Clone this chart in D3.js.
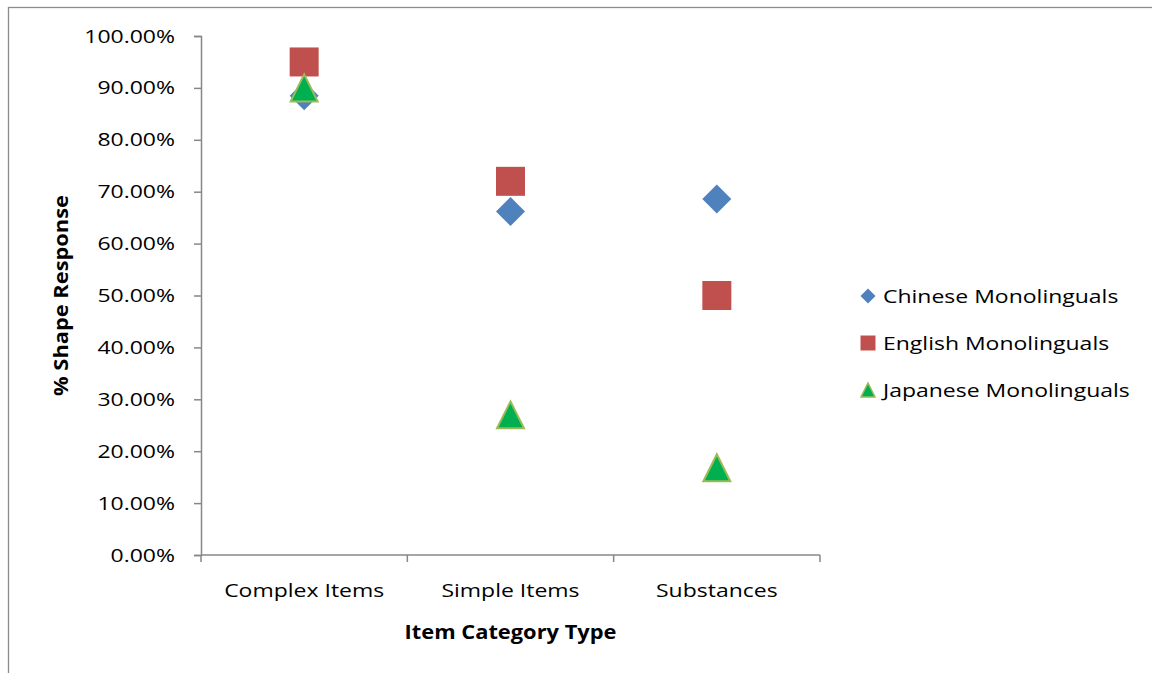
<!DOCTYPE html>
<html>
<head>
<meta charset="utf-8">
<script src="https://cdn.jsdelivr.net/npm/d3@7"></script>
<style>
  html, body { margin: 0; padding: 0; background: #fff; }
  svg { display: block; font-family: "Open Sans", "Noto Sans", sans-serif; }
</style>
</head>
<body>
<svg id="chart" width="1152" height="673"></svg>
<script>
// Item categories along the x axis
const categories = ["Complex Items", "Simple Items", "Substances"];

// Proportion of shape responses per language group
const seriesNames = ["Chinese Monolinguals", "English Monolinguals", "Japanese Monolinguals"];
const chinese  = [0.885, 0.662, 0.686];
const english  = [0.950, 0.720, 0.500];
const japanese = [0.900, 0.270, 0.168];

const yTicks = [0, 0.1, 0.2, 0.3, 0.4, 0.5, 0.6, 0.7, 0.8, 0.9, 1.0];

const series = [
  { name: seriesNames[0], values: chinese,  shape: "diamond",  fill: "#4F81BD", stroke: "none" },
  { name: seriesNames[1], values: english,  shape: "square",   fill: "#C0504D", stroke: "none" },
  { name: seriesNames[2], values: japanese, shape: "triangle", fill: "#00B050", stroke: "#9BBB59" }
];

const svg = d3.select("#chart");
const axisColor = "#878787";
const sx = 1.21;      // horizontal stretch of the label type
const sxBold = 1.15;

// Outer chart frame
svg.append("rect")
  .attr("x", 8.5).attr("y", 7.5)
  .attr("width", 1160).attr("height", 680)
  .attr("fill", "none").attr("stroke", "#8c8c8c").attr("stroke-width", 1.3);

const plot = { left: 201, right: 820, top: 36, bottom: 555 };

const xBand = d3.scaleBand().domain(categories).range([plot.left, plot.right]).padding(0);
const xCenter = c => xBand(c) + xBand.bandwidth() / 2;
const y = d3.scaleLinear().domain([0, 1]).range([plot.bottom, plot.top]);
const fmt = d3.format(".2%");

// Y axis
const yAxis = svg.append("g")
  .attr("transform", `translate(${plot.left},0)`)
  .call(d3.axisLeft(y).tickValues(yTicks).tickFormat(fmt).tickSize(7).tickPadding(19));
yAxis.select(".domain").attr("stroke", axisColor).attr("stroke-width", 1.5);
yAxis.selectAll(".tick line").attr("stroke", axisColor).attr("stroke-width", 1.5);
yAxis.selectAll(".tick text")
  .attr("fill", "#000").style("font-size", "19px")
  .style("font-family", "'Open Sans', sans-serif")
  .attr("x", -26 / sx)
  .attr("transform", `scale(${sx},1)`);

// X axis: line with tick marks between categories
const xg = svg.append("g");
xg.append("line")
  .attr("x1", plot.left).attr("x2", plot.right)
  .attr("y1", plot.bottom).attr("y2", plot.bottom)
  .attr("stroke", axisColor).attr("stroke-width", 1.5);
const edges = categories.map(c => xBand(c)).concat([xBand(categories[categories.length - 1]) + xBand.bandwidth()]);
xg.selectAll("line.tk").data(edges).join("line")
  .attr("class", "tk")
  .attr("x1", d => d).attr("x2", d => d)
  .attr("y1", plot.bottom).attr("y2", plot.bottom + 7)
  .attr("stroke", axisColor).attr("stroke-width", 1.5);
xg.selectAll("text").data(categories).join("text")
  .attr("transform", d => `translate(${xCenter(d)},597) scale(${sx},1)`)
  .attr("text-anchor", "middle")
  .style("font-size", "19px").attr("fill", "#000")
  .text(d => d);

// Axis titles
svg.append("text")
  .attr("transform", `translate(${xCenter(categories[1])},639) scale(${sxBold},1)`)
  .attr("text-anchor", "middle")
  .style("font-size", "19px").style("font-weight", "bold")
  .text("Item Category Type");

svg.append("text")
  .attr("transform", `translate(68,${(plot.top + plot.bottom) / 2}) rotate(-90) scale(${sxBold},1)`)
  .attr("text-anchor", "middle")
  .style("font-size", "19px").style("font-weight", "bold")
  .text("% Shape Response");

// Marker shapes, centred on the origin
function markerPath(shape, s) {
  const h = s / 2;
  if (shape === "diamond") return `M0,${-h}L${h},0L0,${h}L${-h},0Z`;
  if (shape === "square") return `M${-h},${-h}H${h}V${h}H${-h}Z`;
  return `M0,${-h}L${h},${h}L${-h},${h}Z`;
}
const markerSize = { diamond: 29, square: 29, triangle: 27 };

// Data points
series.forEach(s => {
  svg.append("g").selectAll("path")
    .data(s.values.map((v, i) => ({ cat: categories[i], v })))
    .join("path")
    .attr("transform", d => `translate(${xCenter(d.cat)},${y(d.v)})`)
    .attr("d", markerPath(s.shape, markerSize[s.shape]))
    .attr("fill", s.fill)
    .attr("stroke", s.stroke)
    .attr("stroke-width", s.stroke === "none" ? 0 : 2)
    .attr("stroke-linejoin", "miter");
});

// Legend
const legend = svg.append("g").attr("transform", "translate(868,296)");
const rows = legend.selectAll("g").data(series).join("g")
  .attr("transform", (d, i) => `translate(0,${i * 47})`);
rows.append("path")
  .attr("d", d => markerPath(d.shape, d.shape === "triangle" ? 14 : 15))
  .attr("fill", d => d.fill)
  .attr("stroke", d => d.stroke)
  .attr("stroke-width", d => d.stroke === "none" ? 0 : 1.5);
rows.append("text")
  .attr("transform", `translate(15,7) scale(${sx},1)`)
  .style("font-size", "19px").attr("fill", "#000")
  .text(d => d.name);
</script>
</body>
</html>
